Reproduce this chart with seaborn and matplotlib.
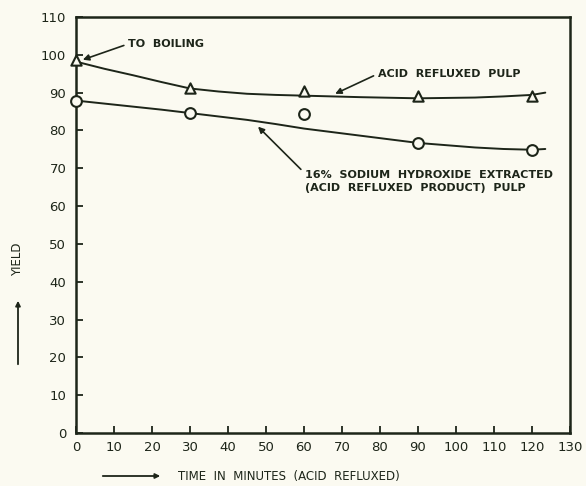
import matplotlib
matplotlib.use("Agg")
import matplotlib.pyplot as plt
import seaborn as sns
import pandas as pd

# Measured points
time_pts = [0, 30, 60, 90, 120]
acid_pulp_yield = [98.5, 91.3, 90.4, 89.1, 89.0]
naoh_pulp_yield = [87.9, 84.7, 84.3, 76.7, 74.7]

# Smoothed curves
curve_time = [0, 7.5, 15, 22.5, 30, 37.5, 45, 52.5, 60, 75, 90, 105, 112.5, 120, 123.5]
acid_curve = [98.2, 96.3, 94.6, 92.8, 91.1, 90.3, 89.7, 89.4, 89.2, 88.8, 88.5, 88.7, 89.0, 89.4, 90.0]
naoh_curve = [87.9, 87.1, 86.3, 85.5, 84.6, 83.7, 82.8, 81.7, 80.5, 78.6, 76.7, 75.5, 75.1, 74.9, 75.1]

x_ticks = [0, 10, 20, 30, 40, 50, 60, 70, 80, 90, 100, 110, 120, 130]
y_ticks = [0, 10, 20, 30, 40, 50, 60, 70, 80, 90, 100, 110]

INK = "#1d2519"
BG = "#fbfaf1"

sns.set_theme(style="white")
plt.rcParams["font.family"] = ["DejaVu Sans"]

fig = plt.figure(figsize=(5.86, 4.86), dpi=100, facecolor=BG)
ax = fig.add_axes([76 / 586, 53 / 486, 494 / 586, 416 / 486])
ax.set_facecolor(BG)

curves = pd.DataFrame({"t": curve_time, "acid": acid_curve, "naoh": naoh_curve})
pts = pd.DataFrame({"t": time_pts, "acid": acid_pulp_yield, "naoh": naoh_pulp_yield})

sns.lineplot(data=curves, x="t", y="acid", ax=ax, color=INK, lw=1.4, sort=True)
sns.lineplot(data=curves, x="t", y="naoh", ax=ax, color=INK, lw=1.4, sort=True)
sns.scatterplot(data=pts, x="t", y="acid", ax=ax, marker="^", s=55,
                facecolor=BG, edgecolor=INK, linewidth=1.5, zorder=5, clip_on=False)
sns.scatterplot(data=pts, x="t", y="naoh", ax=ax, marker="o", s=60,
                facecolor=BG, edgecolor=INK, linewidth=1.5, zorder=5, clip_on=False)

ax.set_xlim(0, 130)
ax.set_ylim(0, 110)
ax.set_xticks(x_ticks)
ax.set_yticks(y_ticks)
ax.set_xticklabels([str(v) for v in x_ticks])
ax.set_yticklabels([str(v) for v in y_ticks])
ax.tick_params(axis="both", direction="in", length=5, width=1.3, color=INK,
               labelcolor=INK, labelsize=9.5, bottom=True, left=True,
               top=False, right=False)
ax.tick_params(axis="y", pad=7)
ax.tick_params(axis="x", pad=6)
for s in ax.spines.values():
    s.set_color(INK)
    s.set_linewidth(1.8)
    s.set_visible(True)
ax.set_xlabel("")
ax.set_ylabel("")

def aprops(rp):
    return dict(arrowstyle="-|>", color=INK, lw=1.2, mutation_scale=9,
                shrinkA=1, shrinkB=0, relpos=rp)

ax.annotate("TO  BOILING", xy=(1.8, 98.7), xytext=(13.8, 102.9),
            fontsize=8, color=INK, fontweight="bold", va="center", ha="left",
            arrowprops=aprops((0, 0.5)))
ax.annotate("ACID  REFLUXED  PULP", xy=(68.2, 89.7), xytext=(79.5, 95.0),
            fontsize=8, color=INK, fontweight="bold", va="center", ha="left",
            arrowprops=aprops((0, 0.5)))
ax.annotate("16%  SODIUM  HYDROXIDE  EXTRACTED\n(ACID  REFLUXED  PRODUCT)  PULP",
            xy=(47.9, 81.0), xytext=(60.3, 69.5),
            fontsize=8, color=INK, fontweight="bold", va="top", ha="left",
            linespacing=1.35, arrowprops=aprops((0, 0.85)))

# axis titles with arrows, as in the original
fig.text(18 / 586, 1 - 259 / 486, "YIELD", rotation=90, fontsize=8.5,
         color=INK, ha="center", va="center")
fig.add_artist(matplotlib.patches.FancyArrowPatch(
    (18 / 586, 1 - 367 / 486), (18 / 586, 1 - 298 / 486),
    transform=fig.transFigure, arrowstyle="-|>", mutation_scale=7,
    color=INK, lw=1.3))
fig.text(178 / 586, 1 - 476 / 486, "TIME  IN  MINUTES  (ACID  REFLUXED)",
         fontsize=8.5, color=INK, ha="left", va="center")
fig.add_artist(matplotlib.patches.FancyArrowPatch(
    (100 / 586, 1 - 476 / 486), (163 / 586, 1 - 476 / 486),
    transform=fig.transFigure, arrowstyle="-|>", mutation_scale=7,
    color=INK, lw=1.3))

fig.savefig("out.png", dpi=100, facecolor=BG)
